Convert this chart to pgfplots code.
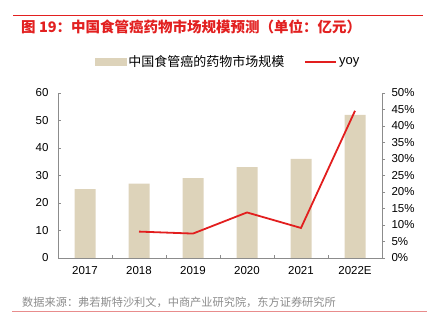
\documentclass[border=0pt]{standalone}
\usepackage{pgfplots}
\pgfplotsset{compat=1.18}
\usepackage{fontspec}
\setmainfont{Liberation Sans}
\newfontfamily\cjk{Noto Sans CJK SC}
\definecolor{barc}{RGB}{221,211,186}
\definecolor{linec}{RGB}{226,30,30}
\definecolor{titlec}{RGB}{226,32,32}
\definecolor{axc}{RGB}{140,140,140}
\definecolor{srcc}{RGB}{140,140,140}
\definecolor{botc}{RGB}{232,140,140}
\begin{document}
\begin{tikzpicture}
\path[use as bounding box] (0pt,0pt) rectangle (431pt,328pt);
\draw[titlec, line width=0.9pt] (13pt,313pt) -- (423pt,313pt);
\node[anchor=west, inner sep=0, text=titlec, font=\cjk\bfseries\fontsize{14.5}{16}\selectfont] at (21pt,301.5pt) {图 19：中国食管癌药物市场规模预测（单位：亿元）};
\begin{axis}[
  at={(58pt,70pt)}, anchor=south west,
  width=324pt, height=165pt, scale only axis,
  xmin=-0.5, xmax=5.5, ymin=0, ymax=60,
  axis x line*=bottom, axis y line*=left,
  axis line style={axc, line width=0.6pt},
  xtick={0.5,1.5,2.5,3.5,4.5}, xticklabels={},
  extra x ticks={0,1,2,3,4,5},
  extra x tick labels={2017,2018,2019,2020,2021,2022E},
  extra x tick style={major tick length=0pt},
  ytick={0,10,...,60},
  tick style={axc, line width=0.6pt}, major tick length=3pt,
  tick align=inside,
  ticklabel style={font=\fontsize{11.5}{13}\selectfont, text=black},
  /pgf/number format/assume math mode=true,
  yticklabel style={xshift=-6pt},
  xticklabel style={yshift=-5pt},
]
\addplot[ybar, bar width=21pt, fill=barc, draw=none, bar shift=0pt]
 coordinates {(0,25) (1,27) (2,29) (3,33) (4,36) (5,52)};
\end{axis}
\begin{axis}[
  at={(58pt,70pt)}, anchor=south west,
  width=324pt, height=165pt, scale only axis,
  xmin=-0.5, xmax=5.5, ymin=0, ymax=50,
  axis x line=none, axis y line*=right,
  axis line style={axc, line width=0.6pt},
  ytick={0,5,...,50},
  yticklabel={\pgfmathprintnumber{\tick}\%},
  tick style={axc, line width=0.6pt}, major tick length=3pt,
  tick align=outside,
  ticklabel style={font=\fontsize{11.5}{13}\selectfont, text=black},
  /pgf/number format/assume math mode=true,
  yticklabel style={xshift=3pt},
  legend columns=2,
  legend style={at={(0.525,1.188)}, anchor=center, draw=none, fill=none,
    font=\cjk\fontsize{13}{15}\selectfont,
    /tikz/every even column/.append style={column sep=18pt}},
]
\addlegendimage{legend image code/.code={\fill[barc] (0pt,-3.5pt) rectangle (31pt,3.5pt);}}
\addlegendentry{中国食管癌的药物市场规模}
\addplot[linec, line width=1.8pt, mark=none, legend image code/.code={\draw[linec, line width=1.8pt] (0pt,0pt) -- (31pt,0pt);}]
 coordinates {(1,8.0) (2,7.4) (3,13.8) (4,9.1) (5,44.6)};
\addlegendentry{\rmfamily yoy}
\end{axis}
\node[anchor=west, inner sep=0, text=srcc, font=\cjk\fontsize{11.2}{13}\selectfont] at (22pt,26pt) {数据来源：弗若斯特沙利文，中商产业研究院，东方证券研究所};
\draw[botc, line width=0.9pt] (12pt,17pt) -- (427pt,17pt);
\end{tikzpicture}
\end{document}
